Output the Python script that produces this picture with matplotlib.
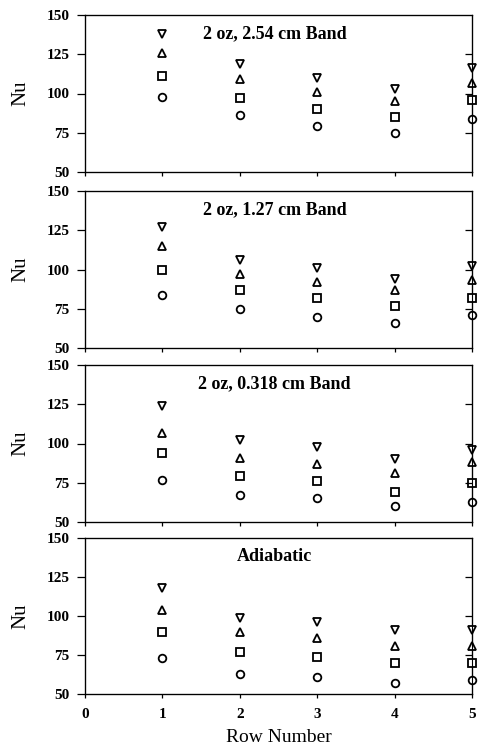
import matplotlib.pyplot as plt
import numpy as np

plt.rcParams['font.family'] = ['Liberation Serif', 'DejaVu Serif']

rows = [1, 2, 3, 4, 5]
titles = ['2 oz, 2.54 cm Band', '2 oz, 1.27 cm Band', '2 oz, 0.318 cm Band', 'Adiabatic']

# Nu values per panel, one list per marker series
nu_down = [[138, 119, 110, 103, 116],
           [127, 106, 101, 94, 102],
           [124, 102, 98, 90, 96],
           [118, 99, 96, 91, 91]]
nu_up = [[126, 109, 101, 95, 107],
         [115, 97, 92, 87, 93],
         [107, 91, 87, 81, 88],
         [104, 90, 86, 81, 81]]
nu_square = [[111, 97, 90, 85, 96],
             [100, 87, 82, 77, 82],
             [94, 79, 76, 69, 75],
             [90, 77, 74, 70, 70]]
nu_circle = [[98, 86, 79, 75, 84],
             [84, 75, 70, 66, 71],
             [77, 67, 65, 60, 63],
             [73, 63, 61, 57, 59]]

fig = plt.figure(figsize=(4.78, 7.51), dpi=100)

left = 85 / 478
width = (472 - 85) / 478
# top/bottom pixel rows of each panel
panels = [(15, 172), (191, 348), (365, 522), (538, 694)]

for i, (top, bot) in enumerate(panels):
    ax = fig.add_axes([left, 1 - bot / 751, width, (bot - top) / 751])
    series = [(nu_down[i], 'v'), (nu_up[i], '^'), (nu_square[i], 's'), (nu_circle[i], 'o')]
    for vals, m in series:
        ax.plot(rows, vals, linestyle='none', marker=m, markersize=5.5,
                markerfacecolor='white', markeredgecolor='black',
                markeredgewidth=1.3, clip_on=False, zorder=3)
    ax.set_xlim(0, 5)
    ax.set_ylim(50, 150)
    ax.set_yticks([50, 75, 100, 125, 150])
    ax.set_xticks([0, 1, 2, 3, 4, 5])
    ax.tick_params(axis='y', direction='out', length=6, width=0.9, labelsize=11, pad=5)
    ax.tick_params(axis='x', direction='out', length=3, width=0.9, labelsize=11, pad=7)
    for lab in ax.get_yticklabels():
        lab.set_fontweight('bold')
    if i < 3:
        ax.set_xticklabels([])
    else:
        for lab in ax.get_xticklabels():
            lab.set_fontweight('bold')
        ax.set_xlabel('Row Number', fontsize=14, labelpad=6)
    for sp in ax.spines.values():
        sp.set_linewidth(0.9)
    ax.set_ylabel('Nu', fontsize=15, labelpad=12)
    ax.text(0.49, 0.88, titles[i], transform=ax.transAxes, ha='center', va='center',
            fontsize=13, fontweight='bold')

    # inward ticks on the right spine
    axr = ax.twinx()
    axr.set_ylim(50, 150)
    axr.set_yticks([75, 100, 125])
    axr.set_yticklabels([])
    axr.tick_params(axis='y', direction='in', length=5, width=0.9)

fig.savefig('out.png', dpi=100)
